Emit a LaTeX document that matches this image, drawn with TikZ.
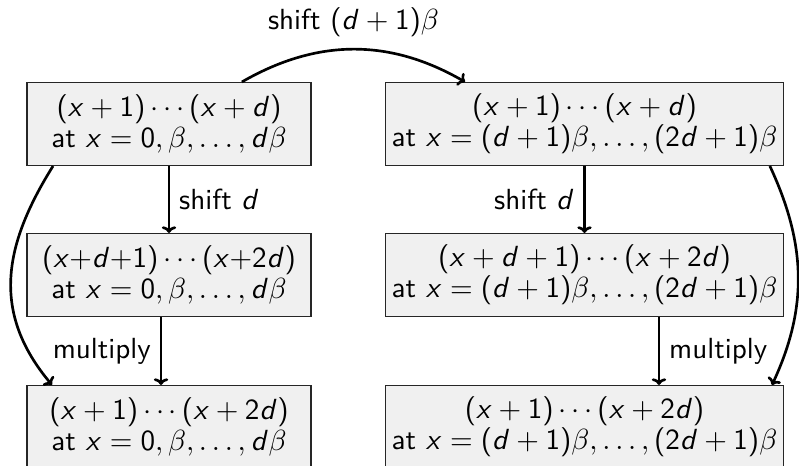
\documentclass[tikz,border=0pt]{standalone}
\usetikzlibrary{arrows.meta}
% sans digits and letters in math, as on a slide
\SetSymbolFont{operators}{normal}{OT1}{cmss}{m}{n}
\DeclareSymbolFont{sfit}{OT1}{cmss}{m}{sl}
\DeclareMathSymbol{x}{\mathalpha}{sfit}{`x}
\DeclareMathSymbol{d}{\mathalpha}{sfit}{`d}

\begin{document}
\begin{tikzpicture}[
  x=0.376pt, y=-0.376pt,
  font=\sffamily\fontsize{10.95}{11.7}\selectfont,
  box/.style={draw=black!85, fill=black!6, line width=0.4pt, align=center, minimum height=31.2pt, inner sep=1pt},
  lbox/.style={box, minimum width=106.8pt},
  rbox/.style={box, minimum width=149.3pt},
  arrow/.style={-{To[length=2.5pt,width=5.4pt]}, line width=1pt}
]
\useasboundingbox (0,0) rectangle (799,466);
\node[lbox] (topL) at (169,124) {$(x+1)\cdots(x+d)$\\at $x=0,\beta,\ldots,d\beta$};
\node[rbox] (topR) at (584.5,124) {$(x+1)\cdots(x+d)$\\at $x=(d+1)\beta,\ldots,(2d+1)\beta$};
\node[lbox] (midL) at (169,275) {$(x{+}d{+}1)\cdots(x{+}2d)$\\at $x=0,\beta,\ldots,d\beta$};
\node[rbox] (midR) at (584.5,275) {$(x+d+1)\cdots(x+2d)$\\at $x=(d+1)\beta,\ldots,(2d+1)\beta$};
\node[lbox] (botL) at (169,427) {$(x+1)\cdots(x+2d)$\\at $x=0,\beta,\ldots,d\beta$};
\node[rbox] (botR) at (584.5,427) {$(x+1)\cdots(x+2d)$\\at $x=(d+1)\beta,\ldots,(2d+1)\beta$};

\draw[arrow] (topL) -- node[right]{shift $d$} (midL);
\draw[arrow] (topR) -- node[left]{shift $d$} (midR);
\draw[arrow] ([xshift=-3pt]midL.south) -- node[left]{multiply} ([xshift=-3pt]botL.north);
\draw[arrow] ([xshift=28pt]midR.south) -- node[right]{multiply} ([xshift=28pt]botR.north);
\draw[arrow] ([xshift=27.4pt]topL.north) to[out=30, in=150] node[above=1pt]{shift $(d+1)\beta$} ([xshift=-44.9pt]topR.north);
\draw[arrow] ([xshift=-43.6pt]topL.south) to[out=238, in=130, looseness=1.1] ([xshift=-44pt]botL.north);
\draw[arrow] ([xshift=69.7pt]topR.south) to[out=-65, in=65] ([xshift=70.5pt]botR.north);
\end{tikzpicture}
\end{document}
